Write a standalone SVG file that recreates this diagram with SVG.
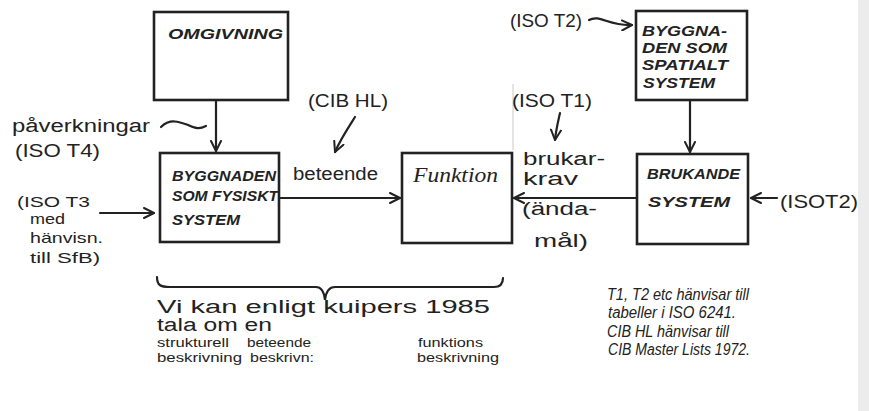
<svg xmlns="http://www.w3.org/2000/svg" width="869" height="411" viewBox="0 0 869 411">
<defs>
<marker id="arr" viewBox="0 0 12 12" refX="11" refY="6" markerWidth="12" markerHeight="12" markerUnits="userSpaceOnUse" orient="auto">
<path d="M1,1 L11,6 L1,11" fill="none" stroke="#222" stroke-width="2" stroke-linecap="round" stroke-linejoin="round"/>
</marker>
<style>
.box{fill:#fff;stroke:#222;stroke-width:2.6}
.ln{fill:none;stroke:#222;stroke-width:2.2;stroke-linecap:round}
.cap{font-family:"Liberation Sans",Arial,sans-serif;font-style:italic;font-weight:bold;font-size:15px;fill:#222}
.hw{font-family:"Liberation Sans",Arial,sans-serif;font-size:18px;fill:#222}
.hs{font-family:"Liberation Sans",Arial,sans-serif;font-size:15px;fill:#222}
.hb{font-family:"Liberation Sans",Arial,sans-serif;font-size:12.5px;fill:#222}
.note{font-family:"Liberation Sans",Arial,sans-serif;font-style:italic;font-size:16px;fill:#222}
</style>
</defs>
<rect width="869" height="411" fill="#fff"/>
<rect x="858" y="0" width="11" height="411" fill="#ececec"/>
<line x1="513" y1="84" x2="513" y2="150" stroke="#c8c8c8" stroke-width="1"/>

<g id="connectors">
<line class="ln" x1="216" y1="100" x2="216" y2="151" marker-end="url(#arr)"/>
<line class="ln" x1="279" y1="198" x2="400" y2="198" marker-end="url(#arr)"/>
<line class="ln" x1="637" y1="198" x2="514" y2="198" marker-end="url(#arr)"/>
<line class="ln" x1="690" y1="100" x2="690" y2="152" marker-end="url(#arr)"/>
<line class="ln" x1="100" y1="213" x2="154" y2="213" marker-end="url(#arr)"/>
<line class="ln" x1="777" y1="198" x2="751" y2="198" marker-end="url(#arr)"/>
<path class="ln" d="M589,20 C600,14 608,26 632,25" marker-end="url(#arr)"/>
<path class="ln" d="M355,117 C348,128 340,140 335,152" marker-end="url(#arr)"/>
<path class="ln" d="M560,113 C558,122 556,130 555,140" marker-end="url(#arr)"/>
<path class="ln" d="M161,127 C170,118 180,122 188,125 C196,129 200,129 206,126"/>
<path class="ln" d="M157,277 C157,285 160,287 170,287 L316,287 C321,287 324,291 325,300 C326,291 329,287 335,287 L494,287 C500,287 503,284 503,278"/>
</g>

<g id="omgivning">
<rect class="box" x="154" y="12" width="134" height="88"/>
<text class="cap" x="168" y="39" font-size="17" textLength="115" lengthAdjust="spacingAndGlyphs">OMGIVNING</text>
</g>

<g id="fysiskt">
<rect class="box" x="160" y="153" width="119" height="89"/>
<text class="cap" x="172" y="181" textLength="104" lengthAdjust="spacingAndGlyphs">BYGGNADEN</text>
<text class="cap" x="172" y="201" textLength="106" lengthAdjust="spacingAndGlyphs">SOM FYSISKT</text>
<text class="cap" x="172" y="225" textLength="68" lengthAdjust="spacingAndGlyphs">SYSTEM</text>
</g>

<g id="funktion">
<rect class="box" x="402" y="153" width="110" height="90"/>
<text x="413" y="182" font-family="Liberation Serif,serif" font-style="italic" font-size="20" fill="#222" textLength="85" lengthAdjust="spacingAndGlyphs">Funktion</text>
</g>

<g id="spatialt">
<rect class="box" x="636" y="11" width="111" height="89"/>
<text class="cap" x="642" y="36" textLength="85" lengthAdjust="spacingAndGlyphs">BYGGNA-</text>
<text class="cap" x="642" y="53" textLength="85" lengthAdjust="spacingAndGlyphs">DEN SOM</text>
<text class="cap" x="642" y="70" textLength="86" lengthAdjust="spacingAndGlyphs">SPATIALT</text>
<text class="cap" x="643" y="88" textLength="72" lengthAdjust="spacingAndGlyphs">SYSTEM</text>
</g>

<g id="brukande">
<rect class="box" x="637" y="154" width="111" height="90"/>
<text class="cap" x="647" y="179" textLength="93" lengthAdjust="spacingAndGlyphs">BRUKANDE</text>
<text class="cap" x="648" y="207" font-size="17" textLength="82" lengthAdjust="spacingAndGlyphs">SYSTEM</text>
</g>

<g id="labels">
<text class="hw" x="12" y="132" textLength="138" lengthAdjust="spacingAndGlyphs">påverkningar</text>
<text class="hw" x="15" y="157" textLength="85" lengthAdjust="spacingAndGlyphs">(ISO T4)</text>
<text class="hs" x="17" y="207" textLength="73" lengthAdjust="spacingAndGlyphs">(ISO T3</text>
<text class="hs" x="30" y="224" textLength="35" lengthAdjust="spacingAndGlyphs">med</text>
<text class="hs" x="30" y="243" textLength="73" lengthAdjust="spacingAndGlyphs">hänvisn.</text>
<text class="hs" x="30" y="263" textLength="70" lengthAdjust="spacingAndGlyphs">till SfB)</text>
<text class="hw" x="293" y="180" textLength="85" lengthAdjust="spacingAndGlyphs">beteende</text>
<text class="hw" x="308" y="107" textLength="80" lengthAdjust="spacingAndGlyphs">(CIB HL)</text>
<text class="hw" x="512" y="107" textLength="80" lengthAdjust="spacingAndGlyphs">(ISO T1)</text>
<text class="hw" x="523" y="165" textLength="82" lengthAdjust="spacingAndGlyphs">brukar-</text>
<text class="hw" x="523" y="185" textLength="55" lengthAdjust="spacingAndGlyphs">krav</text>
<text class="hw" x="522" y="215" textLength="75" lengthAdjust="spacingAndGlyphs">(ända-</text>
<text class="hw" x="534" y="247" textLength="54" lengthAdjust="spacingAndGlyphs">mål)</text>
<text class="hw" x="510" y="27" textLength="72" lengthAdjust="spacingAndGlyphs">(ISO T2)</text>
<text class="hw" x="780" y="208" textLength="78" lengthAdjust="spacingAndGlyphs">(ISOT2)</text>
<text class="hw" x="157" y="313" font-size="16" textLength="333" lengthAdjust="spacingAndGlyphs">Vi kan enligt kuipers 1985</text>
<text class="hw" x="157" y="331" font-size="16" textLength="115" lengthAdjust="spacingAndGlyphs">tala om en</text>
<text class="hb" x="157" y="347" textLength="72" lengthAdjust="spacingAndGlyphs">strukturell</text>
<text class="hb" x="247" y="347" textLength="64" lengthAdjust="spacingAndGlyphs">beteende</text>
<text class="hb" x="418" y="347" textLength="65" lengthAdjust="spacingAndGlyphs">funktions</text>
<text class="hb" x="157" y="362" textLength="85" lengthAdjust="spacingAndGlyphs">beskrivning</text>
<text class="hb" x="250" y="362" textLength="64" lengthAdjust="spacingAndGlyphs">beskrivn:</text>
<text class="hb" x="417" y="362" textLength="82" lengthAdjust="spacingAndGlyphs">beskrivning</text>
<text class="note" x="607" y="300" textLength="142" lengthAdjust="spacingAndGlyphs">T1, T2 etc hänvisar till</text>
<text class="note" x="608" y="318" textLength="128" lengthAdjust="spacingAndGlyphs">tabeller i ISO 6241.</text>
<text class="note" x="607" y="337" textLength="122" lengthAdjust="spacingAndGlyphs">CIB HL hänvisar till</text>
<text class="note" x="608" y="355" textLength="142" lengthAdjust="spacingAndGlyphs">CIB Master Lists 1972.</text>
</g>
</svg>
